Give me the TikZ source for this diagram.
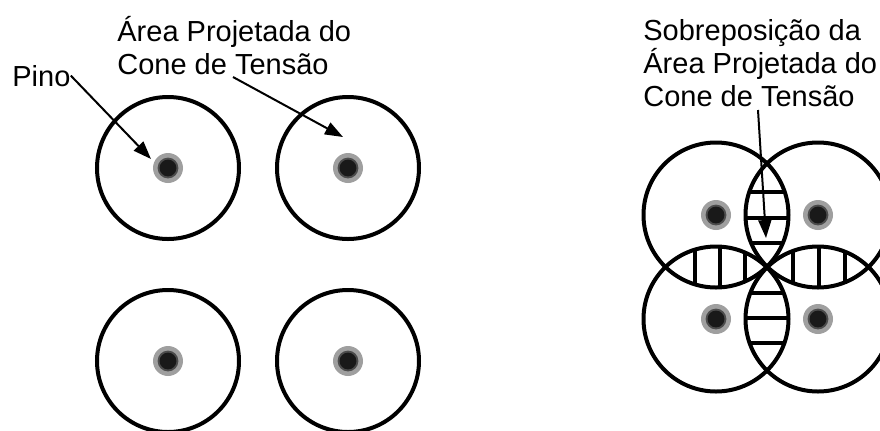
\documentclass[tikz,border=0pt]{standalone}
\usepackage{fontspec}
\setmainfont{Liberation Sans}
\usetikzlibrary{arrows.meta}

\begin{document}
\begin{tikzpicture}[x=0.5pt,y=-0.5pt,
    ring/.style={line width=2pt},
    hatch/.style={line width=1.6pt},
    ptr/.style={line width=1pt,-{Triangle[length=9pt,width=6.5pt]}},
    txt/.style={font=\fontsize{14.5}{16.5}\selectfont,inner sep=0pt,align=left,anchor=base west}]
	\useasboundingbox (0,0) rectangle (880,430);
	\clip (0,0) rectangle (880,430);
	% pinos
	\foreach \x/\y [count=\i] in {168/168,348/168,168/361,348/361,716/215,818/215,716/319,818/319}{
		\coordinate (p\i) at (\x,\y);
		\fill[gray!75] (p\i) circle (7.5pt);
		\fill[black!70] (p\i) circle (5.2pt);
		\fill[black!90] (p\i) circle (4.2pt);
	}
	% areas projetadas separadas
	\foreach \i in {1,...,4} \draw[ring] (p\i) circle (35.5pt);
	% sobreposicao
	\begin{scope}
		\clip (p5) circle (36.25pt); \clip (p6) circle (36.25pt);
		\foreach \y in {192,218,243} \draw[hatch] (700,\y) -- (840,\y);
	\end{scope}
	\begin{scope}
		\clip (p7) circle (36.25pt); \clip (p8) circle (36.25pt);
		\foreach \y in {293,318,343} \draw[hatch] (700,\y) -- (840,\y);
	\end{scope}
	\begin{scope}
		\clip (p5) circle (36.25pt); \clip (p7) circle (36.25pt);
		\foreach \x in {695,720,745} \draw[hatch] (\x,200) -- (\x,340);
	\end{scope}
	\begin{scope}
		\clip (p6) circle (36.25pt); \clip (p8) circle (36.25pt);
		\foreach \x in {793,819,845} \draw[hatch] (\x,200) -- (\x,340);
	\end{scope}
	\foreach \i in {5,...,8} \draw[ring] (p\i) circle (36.25pt);
	% textos (ancorados na ultima linha)
	\node[txt] (pino) at (12,86) {Pino};
	\node[txt] (areaL) at (117,74) {Área Projetada do\\Cone de Tensão};
	\node[txt] (sobre) at (643,106) {Sobreposição da\\Área Projetada do\\Cone de Tensão};
	% setas
	\coordinate (tipA) at (151,159);
	\coordinate (ptrL) at (233,77);
	\coordinate (tipB) at (343,137);
	\coordinate (ptrR) at (758,110);
	\coordinate (tipC) at (766,238);
	\draw[ptr] (pino.east) -- (tipA);
	\draw[ptr] (ptrL) -- (tipB);
	\draw[ptr] (ptrR) -- (tipC);
\end{tikzpicture}
\end{document}
